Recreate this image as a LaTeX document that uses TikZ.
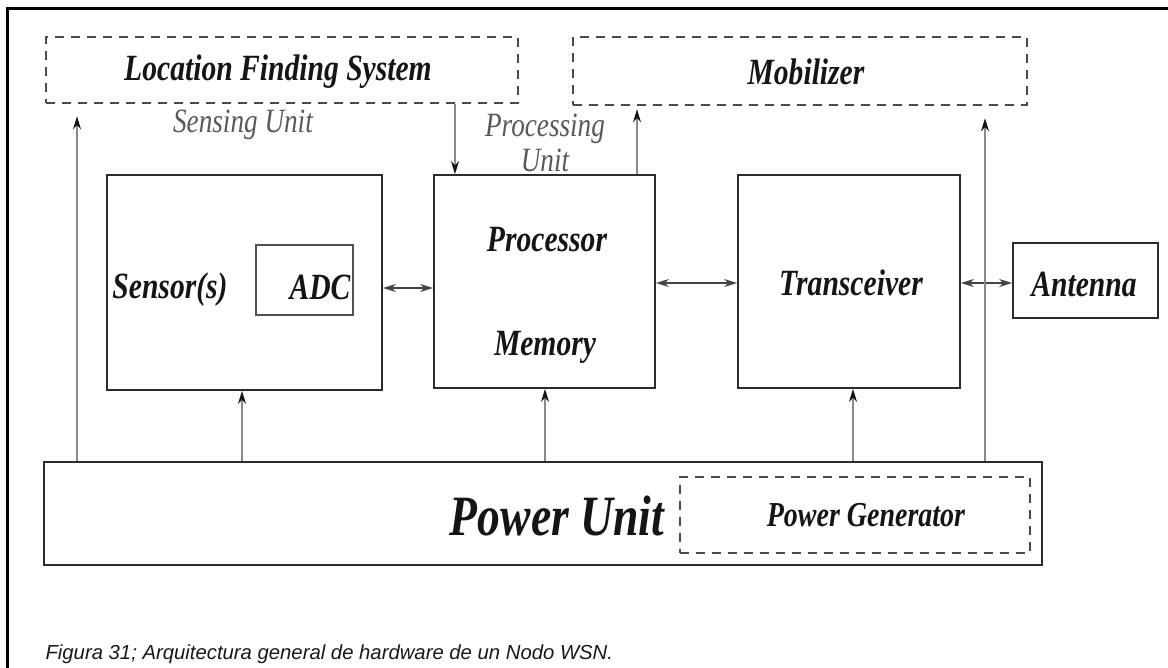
\documentclass[tikz,border=0pt]{standalone}
\usepackage{fontspec}
\setmainfont{Liberation Serif}
\newfontfamily\tight[FakeStretch=0.8]{Liberation Serif}
\newfontfamily\capfont{Liberation Sans}
\usetikzlibrary{arrows.meta,calc}
\definecolor{ink}{HTML}{151515}
\definecolor{wire}{HTML}{8A8A8A}
\definecolor{dash}{HTML}{4A4A4A}
\tikzset{
  solidbox/.style={draw=ink!90, line width=1.8pt, inner sep=0pt},
  dashbox/.style={draw=dash, line width=2.6pt, dash pattern=on 9pt off 7pt, inner sep=0pt},
  boxtext/.style={font=\tight\bfseries\itshape\fontsize{37}{40}\selectfont, text=ink},
  unitlabel/.style={font=\tight\itshape\fontsize{34}{35}\selectfont, text=black!65, align=center},
  wirearrow/.style={draw=wire, line width=1.3pt, -{Stealth[length=13pt,width=8pt,color=ink]}},
  biarrow/.style={draw=ink!80, line width=1.3pt, {Stealth[length=13pt,width=8pt]}-{Stealth[length=13pt,width=8pt]}}
}
\begin{document}
\begin{tikzpicture}[x=1pt,y=-1pt]
\useasboundingbox (0,0) rectangle (1168,668);
\fill[white] (0,0) rectangle (1168,668);
% frame
\draw[line width=3pt, black] (7,668) -- (7,9) -- (1168,9);

% optional subsystems
\node[dashbox, minimum width=472pt, minimum height=66pt] (lfs) at (282,70) {};
\node[boxtext] (lfst) at (278,72) {Location Finding System};
\node[dashbox, minimum width=454pt, minimum height=68pt] (mob) at (800,71) {};
\node[boxtext] (mobt) at (806,72) {Mobilizer};

% sensing unit
\node[unitlabel] (senslbl) at (243,125) {Sensing Unit};
\node[solidbox, minimum width=275pt, minimum height=215pt] (sens) at (244.5,282.5) {};
\node[boxtext] (sensor) at (170,290) {Sensor(s)};
\node[solidbox, draw=ink!75, line width=1.4pt, minimum width=97pt, minimum height=70pt] (adc) at (304.5,280) {};
\node[boxtext] (adct) at (320,287) {ADC};

% processing unit
\node[unitlabel, anchor=base] (proclbl) at (545,137) {Processing};
\node[unitlabel, anchor=base] (proclbl2) at (545,172) {Unit};
\node[solidbox, minimum width=221pt, minimum height=213pt] (proc) at (544.5,281.5) {};
\node[boxtext] (cpu) at (547,240) {Processor};
\node[boxtext] (mem) at (545,347) {Memory};

% transceiver and antenna
\node[solidbox, minimum width=222pt, minimum height=213pt] (trans) at (849,281.5) {};
\node[boxtext] (transt) at (851,283) {Transceiver};
\node[solidbox, minimum width=145pt, minimum height=75pt] (ant) at (1085.5,280.5) {};
\node[boxtext] (antt) at (1084,284) {Antenna};

% power unit
\node[solidbox, minimum width=998pt, minimum height=103pt] (power) at (543,513.5) {};
\node[font=\tight\bfseries\itshape\fontsize{57}{60}\selectfont, text=ink] (powert) at (557,516) {Power Unit};
\node[dashbox, minimum width=350pt, minimum height=76pt] (pgen) at (855,515) {};
\node[font=\tight\bfseries\itshape\fontsize{35}{38}\selectfont, text=ink] (pgent) at (866,515) {Power Generator};

% data links
\draw[biarrow] (sens.east |- 0,288) -- (proc.west |- 0,288);
\draw[biarrow] (proc.east |- 0,283) -- (trans.west |- 0,283);
\draw[biarrow] (trans.east |- 0,283) -- (ant.west |- 0,283);

% power feeds
\draw[wirearrow] (power.north -| 242,0) -- (sens.south -| 242,0);
\draw[wirearrow] (power.north -| 545,0) -- (proc.south -| 545,0);
\draw[wirearrow] (power.north -| 853,0) -- (trans.south -| 853,0);
\draw[wirearrow] (power.north -| 77,0) -- ([yshift=-12pt]lfs.south -| 77,0);
\draw[wirearrow] (power.north -| 985,0) -- ([yshift=-12pt]mob.south -| 985,0);

% control links
\draw[wirearrow] (lfs.south -| 455,0) -- (proc.north -| 455,0);
\draw[wirearrow] (proc.north -| 637,0) -- ([yshift=-3pt]mob.south -| 637,0);

% caption
\node[anchor=base west, font=\capfont\itshape\fontsize{20.3}{23}\selectfont, text=black!90] (cap) at (42,659) {Figura 31; Arquitectura general de hardware de un Nodo WSN.};
\end{tikzpicture}
\end{document}
